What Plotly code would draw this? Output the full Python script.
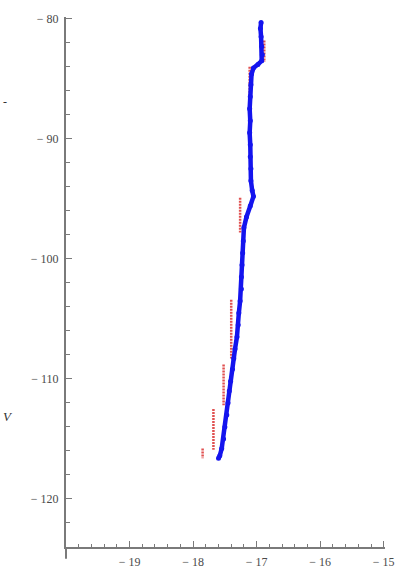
import plotly.graph_objects as go

# Blue track (x, y)
blue_x = [-16.93, -16.94, -16.93, -16.92, -16.91, -16.92, -16.98, -17.05, -17.08, -17.09,
          -17.10, -17.11, -17.10, -17.11, -17.10, -17.10, -17.09, -17.09, -17.07, -17.05,
          -17.10, -17.16, -17.20, -17.21, -17.22, -17.23, -17.24, -17.24, -17.26, -17.28,
          -17.29, -17.31, -17.34, -17.36, -17.38, -17.41, -17.43, -17.45, -17.47, -17.50,
          -17.52, -17.55, -17.58, -17.60]
blue_y = [-80.3, -80.8, -81.5, -82.3, -83.0, -83.5, -83.8, -84.1, -84.6, -85.5,
          -86.5, -87.5, -88.5, -89.5, -90.5, -91.5, -92.5, -93.5, -94.3, -94.8,
          -95.6, -96.5, -97.4, -98.5, -99.5, -100.5, -101.5, -102.5, -103.5, -104.5,
          -105.5, -106.5, -107.5, -108.3, -109.2, -110.2, -111.0, -112.0, -113.0, -114.0,
          -115.0, -115.8, -116.4, -116.6]

# Red vertical runs: x position, top y, bottom y
red_x = [-16.88, -17.11, -17.26, -17.40, -17.52, -17.68, -17.85]
red_top = [-81.8, -84.0, -94.9, -103.4, -108.8, -112.5, -115.8]
red_bottom = [-83.6, -90.5, -97.8, -108.3, -112.2, -115.9, -116.6]

y_ticks = [-80, -90, -100, -110, -120]
x_ticks = [-19, -18, -17, -16, -15]


def minus_label(v):
    return "\u2212 " + str(abs(v))


fig = go.Figure()

rx, ry = [], []
for x, t, b in zip(red_x, red_top, red_bottom):
    rx += [x, x, None]
    ry += [t, b, None]
fig.add_trace(go.Scatter(x=rx, y=ry, mode="lines",
                         line=dict(color="#e05050", width=2.5, dash="2px,1px"),
                         hoverinfo="skip"))

fig.add_trace(go.Scatter(x=blue_x, y=blue_y, mode="lines+markers",
                         line=dict(color="#1414ee", width=4.5),
                         marker=dict(color="#1414ee", size=5)))

axis_color = "#7a7a7a"
font = dict(family="Liberation Serif", size=12, color="#4a4a4a")

fig.update_layout(
    width=410, height=581,
    margin=dict(l=66, r=25, t=17, b=23),
    paper_bgcolor="white", plot_bgcolor="white",
    showlegend=False,
    xaxis=dict(range=[-20, -14.98], showgrid=False, zeroline=False,
               showline=True, linecolor=axis_color, linewidth=2,
               tickmode="array", tickvals=x_ticks,
               ticktext=[minus_label(v) for v in x_ticks],
               ticks="inside", ticklen=6, tickwidth=1, tickcolor=axis_color,
               minor=dict(dtick=0.2, tick0=-20, ticks="inside", ticklen=3,
                          tickwidth=1, tickcolor=axis_color),
               tickfont=font, ticklabelstandoff=3),
    yaxis=dict(range=[-124, -79.85], showgrid=False, zeroline=False,
               showline=True, linecolor=axis_color, linewidth=2,
               tickmode="array", tickvals=y_ticks,
               ticktext=[minus_label(v) for v in y_ticks],
               ticks="inside", ticklen=6, tickwidth=1, tickcolor=axis_color,
               minor=dict(dtick=2, tick0=-80, ticks="inside", ticklen=4,
                          tickwidth=1, tickcolor=axis_color),
               tickfont=font, ticklabelstandoff=3),
)

# short continuation of the vertical axis below the horizontal one
fig.add_shape(type="line", xref="paper", yref="paper",
              x0=0, x1=0, y0=0, y1=-12 / 541,
              line=dict(color=axis_color, width=2))

# text fragments at the left edge
fig.add_annotation(text="<i>V</i>", xref="paper", yref="paper",
                   x=-65 / 318, y=(558 - 425) / 541, xanchor="left", yanchor="middle",
                   showarrow=False, font=dict(family="Liberation Serif", size=13, color="#333"))
fig.add_annotation(text="-", xref="paper", yref="paper",
                   x=-65 / 318, y=(558 - 104) / 541, xanchor="left", yanchor="middle",
                   showarrow=False, font=dict(family="Liberation Serif", size=12, color="#333"))

fig.write_html("out.html")
